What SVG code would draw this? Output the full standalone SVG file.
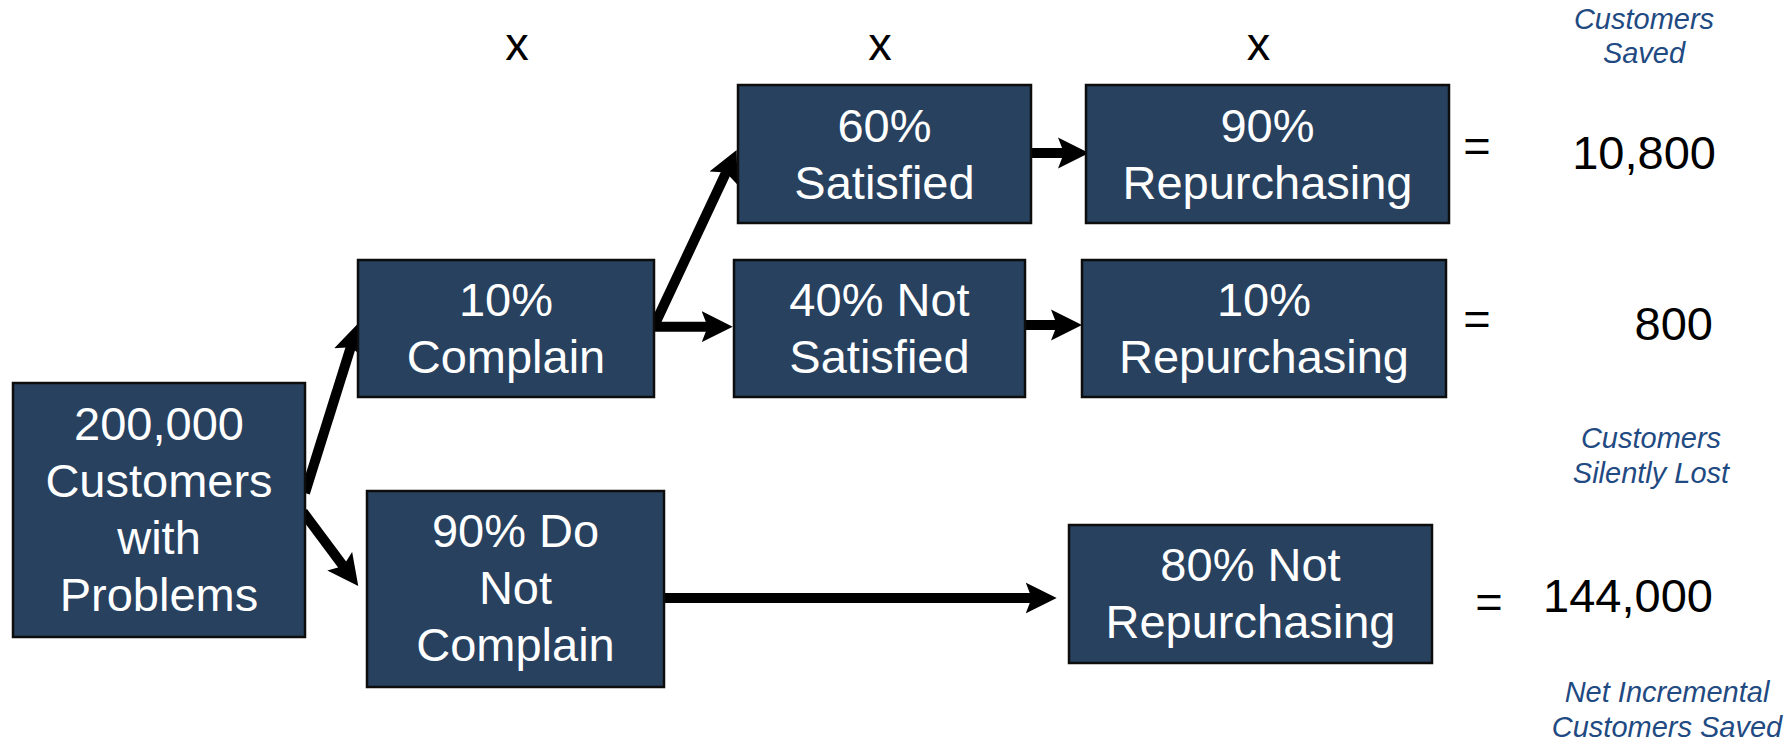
<svg xmlns="http://www.w3.org/2000/svg" width="1791" height="741" viewBox="0 0 1791 741">
<style>
.box{fill:#27415F;stroke:#0d0d0d;stroke-width:2.5}
.bt{font-family:"Liberation Sans",Arial,sans-serif;font-size:47px;fill:#ffffff;text-anchor:middle}
.k{font-family:"Liberation Sans",Arial,sans-serif;font-size:47px;fill:#000000}
.lab{font-family:"Liberation Sans",Arial,sans-serif;font-size:29px;font-style:italic;fill:#1F4A82;text-anchor:middle}
.conn{stroke:#000000;stroke-width:10;fill:none;marker-end:url(#ah)}
</style>
<defs>
<marker id="ah" markerUnits="userSpaceOnUse" viewBox="0 0 32 32" refX="9" refY="16" markerWidth="32" markerHeight="32" orient="auto">
<path d="M31,16 L0,0.5 L6,16 L0,31.5 Z" fill="#000000"/>
</marker>
</defs>
<rect width="1791" height="741" fill="#ffffff"/>
<g id="connectors">
<line class="conn" x1="305" y1="493" x2="351.7" y2="344.3"/>
<line class="conn" x1="303" y1="512" x2="345.1" y2="568.4"/>
<line class="conn" x1="654" y1="326" x2="727.3" y2="169.9"/>
<line class="conn" x1="652" y1="326.7" x2="710.7" y2="326.7"/>
<line class="conn" x1="1031" y1="153" x2="1067" y2="153"/>
<line class="conn" x1="1025" y1="325" x2="1060" y2="325"/>
<line class="conn" x1="664" y1="598" x2="1034.7" y2="598"/>
</g>
<g id="n-customers">
<rect class="box" x="13" y="383" width="292" height="254"/>
<text class="bt" x="159" y="440">200,000</text>
<text class="bt" x="159" y="497">Customers</text>
<text class="bt" x="159" y="554">with</text>
<text class="bt" x="159" y="611">Problems</text>
</g>
<g id="n-complain">
<rect class="box" x="358" y="260" width="296" height="137"/>
<text class="bt" x="506" y="316">10%</text>
<text class="bt" x="506" y="373">Complain</text>
</g>
<g id="n-notcomplain">
<rect class="box" x="367" y="491" width="297" height="196"/>
<text class="bt" x="515.5" y="547">90% Do</text>
<text class="bt" x="515.5" y="604">Not</text>
<text class="bt" x="515.5" y="661">Complain</text>
</g>
<g id="n-satisfied">
<rect class="box" x="738" y="85" width="293" height="138"/>
<text class="bt" x="884.5" y="142">60%</text>
<text class="bt" x="884.5" y="199">Satisfied</text>
</g>
<g id="n-notsatisfied">
<rect class="box" x="734" y="260" width="291" height="137"/>
<text class="bt" x="879.5" y="316">40% Not</text>
<text class="bt" x="879.5" y="373">Satisfied</text>
</g>
<g id="n-repurch90">
<rect class="box" x="1086" y="85" width="363" height="138"/>
<text class="bt" x="1267.5" y="142">90%</text>
<text class="bt" x="1267.5" y="199">Repurchasing</text>
</g>
<g id="n-repurch10">
<rect class="box" x="1082" y="260" width="364" height="137"/>
<text class="bt" x="1264" y="316">10%</text>
<text class="bt" x="1264" y="373">Repurchasing</text>
</g>
<g id="n-notrepurch">
<rect class="box" x="1069" y="525" width="363" height="138"/>
<text class="bt" x="1250.5" y="581">80% Not</text>
<text class="bt" x="1250.5" y="638">Repurchasing</text>
</g>
<g id="labels">
<text class="k" x="517" y="60" text-anchor="middle">x</text>
<text class="k" x="880" y="60" text-anchor="middle">x</text>
<text class="k" x="1258.5" y="60" text-anchor="middle">x</text>
<text class="k" x="1477" y="162" text-anchor="middle">=</text>
<text class="k" x="1477" y="335" text-anchor="middle">=</text>
<text class="k" x="1489" y="618" text-anchor="middle">=</text>
<text class="k" x="1716" y="169" text-anchor="end">10,800</text>
<text class="k" x="1713" y="340" text-anchor="end">800</text>
<text class="k" x="1713" y="612" text-anchor="end">144,000</text>
<text class="lab" x="1644" y="29">Customers</text>
<text class="lab" x="1644" y="63">Saved</text>
<text class="lab" x="1651" y="448">Customers</text>
<text class="lab" x="1651" y="483">Silently Lost</text>
<text class="lab" x="1667" y="702">Net Incremental</text>
<text class="lab" x="1667" y="737">Customers Saved</text>
</g>
</svg>
